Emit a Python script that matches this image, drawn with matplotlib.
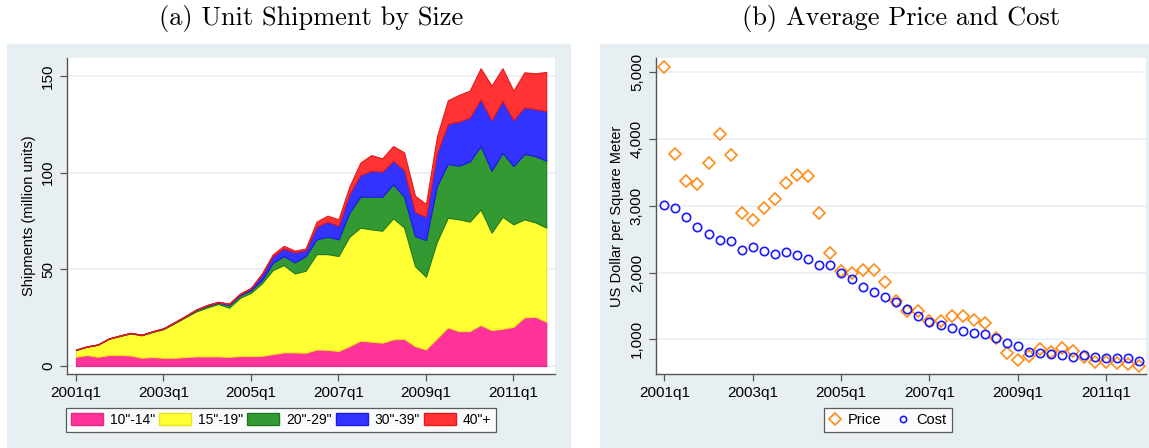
import numpy as np
import matplotlib.pyplot as plt
from matplotlib.patches import Rectangle, Patch
from matplotlib.lines import Line2D
from matplotlib.ticker import FuncFormatter

plt.rcParams['font.family'] = ['Liberation Sans', 'DejaVu Sans']

# quarterly periods 2001q1 .. 2011q4
quarters = [f"{y}q{q}" for y in range(2001, 2012) for q in range(1, 5)]
tick_labels = ["2001q1", "2003q1", "2005q1", "2007q1", "2009q1", "2011q1"]

# unit shipments by screen size (million units)
size_labels = ['10"-14"', '15"-19"', '20"-29"', '30"-39"', '40"+']
ship_10_14 = [4.8, 5.7, 4.8, 5.7, 5.7, 5.5, 4.3, 4.7, 4.3, 4.3, 4.7, 5.0, 5.0, 5.0, 4.8,
              5.2, 5.2, 5.3, 6.2, 7.1, 7.1, 6.9, 8.6, 8.4, 7.8, 10.3, 13.1, 12.6, 12.1,
              13.8, 14.1, 10.3, 8.6, 14.3, 20.0, 18.1, 18.1, 21.2, 18.6, 19.3, 20.3,
              25.2, 25.5, 22.9]
ship_15_19 = [3.5, 4.3, 6.2, 8.4, 9.8, 11.4, 11.6, 12.9, 14.8, 17.8, 20.5, 23.3, 25.3,
              27.1, 25.4, 30.1, 32.7, 37.5, 43.5, 45.1, 40.8, 42.4, 49.3, 49.5, 49.1,
              56.6, 58.5, 58.1, 57.9, 62.6, 57.6, 41.4, 37.6, 50.0, 56.7, 57.8, 56.6,
              59.8, 50.4, 57.9, 53.0, 50.7, 48.8, 48.7]
ship_20_29 = [0.1, 0.1, 0.1, 0.1, 0.2, 0.2, 0.2, 0.3, 0.3, 0.4, 0.5, 0.7, 0.9, 0.7, 1.4,
              1.3, 1.4, 1.7, 3.7, 4.7, 5.7, 7.6, 7.6, 9.0, 8.6, 12.4, 16.0, 16.9, 17.6,
              17.6, 15.9, 15.5, 19.0, 28.8, 27.8, 27.7, 31.0, 32.8, 32.0, 33.1, 30.1,
              33.8, 34.3, 34.6]
ship_30_39 = [0.05, 0.05, 0.05, 0.05, 0.05, 0.05, 0.05, 0.05, 0.1, 0.1, 0.1, 0.2, 0.3,
              0.3, 0.5, 0.6, 0.9, 2.9, 3.5, 4.0, 5.2, 3.1, 6.6, 7.8, 7.1, 9.7, 11.2,
              13.4, 12.9, 12.2, 13.8, 12.6, 12.0, 16.9, 20.7, 22.8, 22.9, 24.2, 26.2,
              26.9, 23.8, 24.1, 24.3, 25.7]
ship_40_up = [0.05, 0.05, 0.05, 0.05, 0.05, 0.05, 0.05, 0.05, 0.05, 0.1, 0.1, 0.1, 0.1,
              0.2, 0.2, 0.3, 0.3, 0.5, 0.9, 1.3, 0.9, 0.8, 2.6, 3.1, 3.3, 3.8, 6.4, 8.1,
              6.9, 7.6, 9.1, 8.3, 6.6, 8.6, 12.2, 13.8, 13.8, 16.0, 17.8, 16.8, 15.2,
              18.1, 18.5, 20.2]

# average price and cost (USD per square meter)
price = [5075, 3777, 3372, 3327, 3647, 4071, 3767, 2893, 2793, 2963, 3097, 3342, 3462,
         3452, 2893, 2298, 2024, 1989, 2039, 2039, 1864, 1574, 1427, 1425, 1275, 1275,
         1350, 1350, 1285, 1240, 1025, 790, 690, 750, 850, 815, 865, 825, 740, 665,
         655, 650, 630, 600]
cost = [3012, 2973, 2838, 2683, 2578, 2488, 2468, 2343, 2388, 2318, 2273, 2313, 2268,
        2208, 2119, 2109, 1989, 1899, 1784, 1704, 1634, 1564, 1459, 1350, 1265, 1215,
        1170, 1130, 1100, 1075, 1015, 940, 905, 815, 790, 785, 765, 740, 765, 740, 725,
        715, 715, 680]

fill_colors = ['#ff3399', '#ffff33', '#339933', '#3333ff', '#ff3333']
edge_colors = ['#e6287f', '#e6e61a', '#1f7a1f', '#1a1ae6', '#e61a1a']
bg = '#e8eff2'
grid_c = '#e8eff2'
spine_c = '#555555'
orange = '#ff8c1a'
blue = '#1a1aff'

x = np.arange(len(quarters))
tick_pos = [quarters.index(t) for t in tick_labels]

fig = plt.figure(figsize=(11.49, 4.48), dpi=100)
# panel backgrounds, kept behind the axes
fig.patches.append(Rectangle((7 / 1149, 0), 563 / 1149, 404 / 448,
                             transform=fig.transFigure, color=bg, zorder=-10))
fig.patches.append(Rectangle((600 / 1149, 0), 549 / 1149, 404 / 448,
                             transform=fig.transFigure, color=bg, zorder=-10))

ax1 = fig.add_axes([67 / 1149, 1 - 374 / 448, 488 / 1149, 316 / 448])
ax2 = fig.add_axes([655.7 / 1149, 1 - 374 / 448, 490.3 / 1149, 316 / 448])


def style_axis(ax):
    for s in ['top', 'right']:
        ax.spines[s].set_visible(False)
    for s in ['left', 'bottom']:
        ax.spines[s].set_color(spine_c)
        ax.spines[s].set_linewidth(1.0)
    ax.grid(axis='y', color=grid_c, linewidth=1.2, zorder=0)
    ax.set_axisbelow(True)
    ax.tick_params(axis='both', color=spine_c, length=5, width=0.9, labelsize=11)
    ax.set_xticks(tick_pos)
    ax.set_xticklabels(tick_labels)
    for lab in ax.get_yticklabels():
        lab.set_rotation(90)
        lab.set_va('center')


# (a) stacked shipments
layers = [ship_10_14, ship_15_19, ship_20_29, ship_30_39, ship_40_up]
polys = ax1.stackplot(x, *layers, colors=fill_colors, zorder=2)
for p, ec in zip(polys, edge_colors):
    p.set_edgecolor(ec)
    p.set_linewidth(0.8)
ax1.set_xlim(-0.82, 43.8)
ax1.set_ylim(-4.1, 159.3)
ax1.set_yticks([0, 50, 100, 150])
style_axis(ax1)
ax1.set_ylabel('Shipments (million units)', fontsize=10.5)
ax1.set_title('(a) Unit Shipment by Size', fontname='cmr10', fontsize=19, pad=24)
handles = [Patch(facecolor=fc, edgecolor=ec, label=l)
           for fc, ec, l in zip(fill_colors, edge_colors, size_labels)]
leg1 = ax1.legend(handles=handles, ncol=5, loc='center', bbox_to_anchor=(214 / 488, -0.146),
                  fontsize=10, frameon=True, fancybox=False, edgecolor='#333333',
                  handlelength=2.3, handleheight=0.95, columnspacing=0.3, handletextpad=0.5,
                  borderpad=0.35, borderaxespad=0)
leg1.get_frame().set_linewidth(0.9)

# (b) price and cost scatter
ax2.plot(x, price, linestyle='none', marker='D', markersize=6, markerfacecolor='none',
         markeredgecolor=orange, markeredgewidth=1.2, zorder=3)
ax2.plot(x, cost, linestyle='none', marker='o', markersize=6, markerfacecolor='none',
         markeredgecolor=blue, markeredgewidth=1.2, zorder=3)
ax2.set_xlim(-0.78, 43.6)
ax2.set_ylim(480, 5215)
ax2.set_yticks([1000, 2000, 3000, 4000, 5000])
ax2.yaxis.set_major_formatter(FuncFormatter(lambda v, p: f"{int(v):,}"))
style_axis(ax2)
ax2.set_ylabel('US Dollar per Square Meter', fontsize=10.5)
ax2.set_title('(b) Average Price and Cost', fontname='cmr10', fontsize=19, pad=24)
mk = [Line2D([], [], linestyle='none', marker='D', markersize=6, markerfacecolor='none',
             markeredgecolor=orange, markeredgewidth=1.2, label='Price'),
      Line2D([], [], linestyle='none', marker='o', markersize=4.5, markerfacecolor='none',
             markeredgecolor=blue, markeredgewidth=1.2, label='Cost')]
leg2 = ax2.legend(handles=mk, ncol=2, loc='center', bbox_to_anchor=(232 / 490.3, -0.146),
                  fontsize=10.5, frameon=True, fancybox=False, edgecolor='#333333',
                  handlelength=0.8, handletextpad=0.5, columnspacing=1.1, borderpad=0.35,
                  borderaxespad=0)
leg2.get_frame().set_linewidth(0.9)

fig.savefig('out.png', dpi=100)
